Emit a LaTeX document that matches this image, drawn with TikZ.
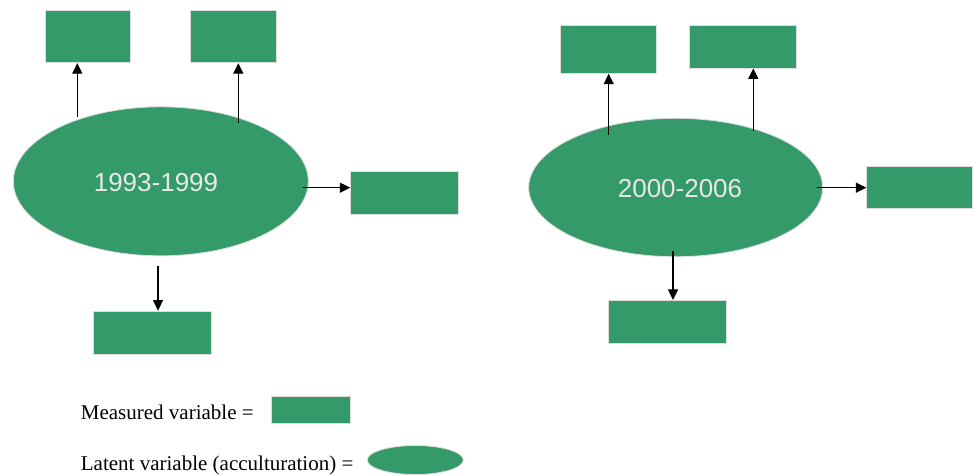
\documentclass[tikz,border=0pt]{standalone}
\usepackage{fontspec}
\setmainfont{Liberation Serif}
\newfontfamily\helv{Liberation Sans}
\usetikzlibrary{shapes.geometric,arrows.meta}
\definecolor{semgreen}{RGB}{52,154,105}
\definecolor{edgegray}{RGB}{222,222,222}
\definecolor{labelgray}{RGB}{232,232,232}
\begin{document}
\begin{tikzpicture}[x=1pt,y=-1pt,
  measured/.style={draw=edgegray,line width=0.8pt,fill=semgreen,rectangle,inner sep=0pt},
  latent/.style={draw=edgegray,line width=0.8pt,fill=semgreen,ellipse,inner sep=0pt,
    text=labelgray,font=\helv\fontsize{26}{30}\selectfont},
  arr/.style={line width=1.2pt,-{Triangle[length=10.5pt,width=10pt]}},
  legendtext/.style={anchor=base west,inner sep=0pt,font=\fontsize{21}{25}\selectfont}]
\useasboundingbox (0,0) rectangle (973,475);
% left group
\node[latent,minimum width=295pt,minimum height=149pt] (e1) at (160.8,181.3) {};
\node[text=labelgray,font=\helv\fontsize{26}{30}\selectfont] (t1) at (156,183) {1993-1999};
\node[measured,minimum width=85pt,minimum height=52.7pt] (l1) at (88.2,36.35) {};
\node[measured,minimum width=85.7pt,minimum height=52.7pt] (l2) at (233.15,36.35) {};
\node[measured,minimum width=107.6pt,minimum height=42.3pt] (l3) at (404.5,192.85) {};
\node[measured,minimum width=118.4pt,minimum height=43pt] (l4) at (152.5,332.5) {};
\coordinate (s1) at (77.3,117);
\coordinate (s2) at (238.3,122.7);
\coordinate (s3) at (302.7,187.7);
\coordinate (s4) at (158,266);
\draw[arr] (s1) -- (s1 |- l1.south);
\draw[arr] (s2) -- (s2 |- l2.south);
\draw[arr] (s3) -- (s3 -| l3.west);
\draw[arr] (s4) -- (s4 |- l4.north);
% right group
\node[latent,minimum width=294pt,minimum height=138.4pt] (e2) at (675.7,187.5) {};
\node[text=labelgray,font=\helv\fontsize{26}{30}\selectfont] (t2) at (680,189) {2000-2006};
\node[measured,minimum width=95.6pt,minimum height=47.6pt] (r1) at (608.5,49.5) {};
\node[measured,minimum width=106.7pt,minimum height=42.3pt] (r2) at (742.65,46.85) {};
\node[measured,minimum width=105.5pt,minimum height=42pt] (r3) at (919.5,187.7) {};
\node[measured,minimum width=118.4pt,minimum height=43pt] (r4) at (667.5,321.8) {};
\coordinate (s5) at (608.7,134.7);
\coordinate (s6) at (753.3,131);
\coordinate (s7) at (817.3,187.7);
\coordinate (s8) at (673,251);
\draw[arr] (s5) -- (s5 |- r1.south);
\draw[arr] (s6) -- (s6 |- r2.south);
\draw[arr] (s7) -- (s7 -| r3.west);
\draw[arr] (s8) -- (s8 |- r4.north);
% legend
\node[legendtext] (m) at (80.7,419.3) {Measured variable =};
\node[measured,minimum width=79.7pt,minimum height=26.6pt] (mr) at (310.85,410) {};
\node[legendtext] (lv) at (80.7,470) {Latent variable (acculturation) =};
\node[latent,minimum width=96pt,minimum height=29pt] (le) at (415.3,460) {};
\end{tikzpicture}
\end{document}
